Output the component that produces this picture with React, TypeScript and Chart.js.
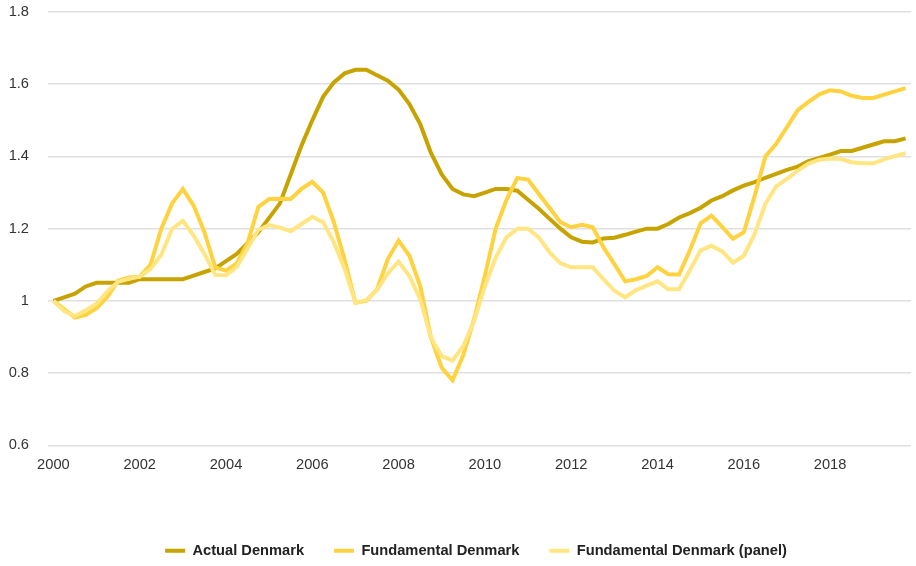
import React, { useEffect, useRef } from "react";
import { Chart, registerables } from "chart.js";

Chart.register(...registerables);

const years = [2000, 2001, 2002, 2003, 2004, 2005, 2006, 2007, 2008, 2009, 2010, 2011, 2012, 2013, 2014, 2015, 2016, 2017, 2018, 2019];
const quarters = ["Q1", "Q2", "Q3", "Q4"];
const categories: string[] = years.flatMap((y) => quarters.map((q) => `${y}${q}`));

const actualDenmark = [
  1.0, 1.01, 1.02, 1.04, 1.05, 1.05, 1.05, 1.05,
  1.06, 1.06, 1.06, 1.06, 1.06, 1.07, 1.08, 1.09,
  1.11, 1.13, 1.16, 1.19, 1.23, 1.27, 1.35, 1.43,
  1.5, 1.565, 1.605, 1.63, 1.64, 1.64, 1.625, 1.61,
  1.585, 1.545, 1.49, 1.41, 1.35, 1.31, 1.295, 1.29,
  1.3, 1.31, 1.31, 1.305, 1.28, 1.255, 1.227, 1.2,
  1.176, 1.164, 1.162, 1.173, 1.175, 1.183, 1.192, 1.2,
  1.2, 1.213, 1.231, 1.243, 1.258, 1.278, 1.29, 1.306,
  1.319, 1.329, 1.341, 1.352, 1.363, 1.372, 1.387, 1.396,
  1.405, 1.415, 1.415, 1.424, 1.433, 1.442, 1.442, 1.45,
];

const fundamentalDenmark = [
  1.0, 0.977, 0.954, 0.961, 0.98, 1.011, 1.056, 1.065,
  1.067, 1.1, 1.2, 1.27, 1.31, 1.264, 1.19, 1.093,
  1.084, 1.104, 1.16, 1.26, 1.282, 1.283, 1.282, 1.31,
  1.33, 1.3, 1.218, 1.113, 0.995, 1.0, 1.032, 1.116,
  1.167, 1.125, 1.042, 0.898, 0.815, 0.78, 0.85, 0.95,
  1.07, 1.2, 1.28, 1.34, 1.336, 1.296, 1.257, 1.218,
  1.204, 1.211, 1.204, 1.148, 1.102, 1.054, 1.06, 1.069,
  1.093, 1.074, 1.073, 1.14, 1.215, 1.236, 1.205, 1.172,
  1.19, 1.29, 1.4, 1.435, 1.481, 1.528, 1.551, 1.572,
  1.583, 1.58, 1.568, 1.562, 1.562, 1.571, 1.58, 1.589,
];

const fundamentalPanel = [
  1.0, 0.972, 0.958, 0.974, 0.992, 1.026, 1.053, 1.061,
  1.067, 1.088, 1.128, 1.199, 1.222, 1.181, 1.13, 1.072,
  1.071, 1.094, 1.145, 1.197, 1.21, 1.203, 1.193, 1.213,
  1.233, 1.218, 1.162, 1.088, 0.995, 1.002, 1.03, 1.076,
  1.109, 1.069, 1.005, 0.898, 0.847, 0.835, 0.875, 0.945,
  1.04, 1.12, 1.176, 1.2, 1.2, 1.176, 1.134, 1.104,
  1.093, 1.093, 1.093, 1.06, 1.028, 1.01, 1.03, 1.042,
  1.054, 1.032, 1.032, 1.085, 1.14, 1.153, 1.137, 1.106,
  1.125, 1.185, 1.269, 1.317, 1.338, 1.361, 1.38, 1.391,
  1.394, 1.393, 1.384, 1.381, 1.381, 1.392, 1.401, 1.409,
];

const seriesLabels = ["Actual Denmark", "Fundamental Denmark", "Fundamental Denmark (panel)"];
const seriesColors = ["#C7A300", "#FFD23F", "#FFE682"];

const FONT = "'Liberation Sans', Arial, Helvetica, sans-serif";
const FONT_SIZE = 14.67;

const shiftLegend = {
  id: "shiftLegend",
  afterLayout(chart: any) {
    if (chart.legend) {
      chart.legend.left += 16;
      chart.legend.right += 16;
    }
  },
};

export default function App() {
  const canvasRef = useRef<HTMLCanvasElement | null>(null);

  useEffect(() => {
    const canvas = canvasRef.current;
    if (!canvas) return;
    const seriesData = [actualDenmark, fundamentalDenmark, fundamentalPanel];
    const chart = new Chart(canvas, {
      type: "line",
      data: {
        labels: categories,
        datasets: seriesData.map((d, i) => ({
          label: seriesLabels[i],
          data: d,
          borderColor: seriesColors[i],
          backgroundColor: seriesColors[i],
          borderWidth: 4,
          pointRadius: 0,
          pointHoverRadius: 0,
          tension: 0,
          fill: false,
          order: 3 - i,
        })),
      },
      plugins: [shiftLegend],
      options: {
        animation: false,
        responsive: false,
        maintainAspectRatio: false,
        layout: { padding: { top: 0, right: 5, left: 9, bottom: -2 } },
        scales: {
          x: {
            type: "category",
            offset: true,
            grid: { display: false, drawTicks: false },
            border: { display: false },
            afterFit: (s: any) => {
              s.height = 68;
            },
            ticks: {
              autoSkip: false,
              maxRotation: 0,
              minRotation: 0,
              padding: 10.5,
              color: "#333333",
              font: { family: FONT, size: FONT_SIZE },
              callback: (_v: any, idx: number) => (idx % 8 === 0 ? categories[idx].slice(0, 4) : null),
            },
          },
          y: {
            min: 0.6,
            max: 1.8,
            grid: { color: "#e0e0e0", lineWidth: 1.5, drawTicks: false },
            border: { display: false },
            afterFit: (s: any) => {
              s.width = 39;
              s.paddingTop = 12;
              s.paddingBottom = 8;
            },
            ticks: {
              stepSize: 0.2,
              padding: 19,
              color: "#333333",
              font: { family: FONT, size: FONT_SIZE },
              callback: (v: any) => String(Number(Number(v).toFixed(1))),
            },
          },
        },
        plugins: {
          legend: {
            display: true,
            position: "bottom",
            labels: {
              boxWidth: 20,
              boxHeight: 4,
              padding: 30,
              color: "#222222",
              font: { family: FONT, size: FONT_SIZE, weight: "bold" },
              generateLabels: (ch: any) =>
                ch.data.datasets.map((ds: any, i: number) => ({
                  text: ds.label,
                  fillStyle: ds.borderColor,
                  strokeStyle: ds.borderColor,
                  lineWidth: 0,
                  hidden: false,
                  datasetIndex: i,
                  fontColor: "#222222",
                })),
            },
          },
          tooltip: { enabled: false },
        },
      },
    });
    return () => chart.destroy();
  }, []);

  return (
    <div style={{ position: "fixed", left: 0, top: 0, width: 916, height: 566, background: "#ffffff" }}>
      <canvas ref={canvasRef} width={916} height={566} style={{ width: 916, height: 566, display: "block" }} />
    </div>
  );
}
